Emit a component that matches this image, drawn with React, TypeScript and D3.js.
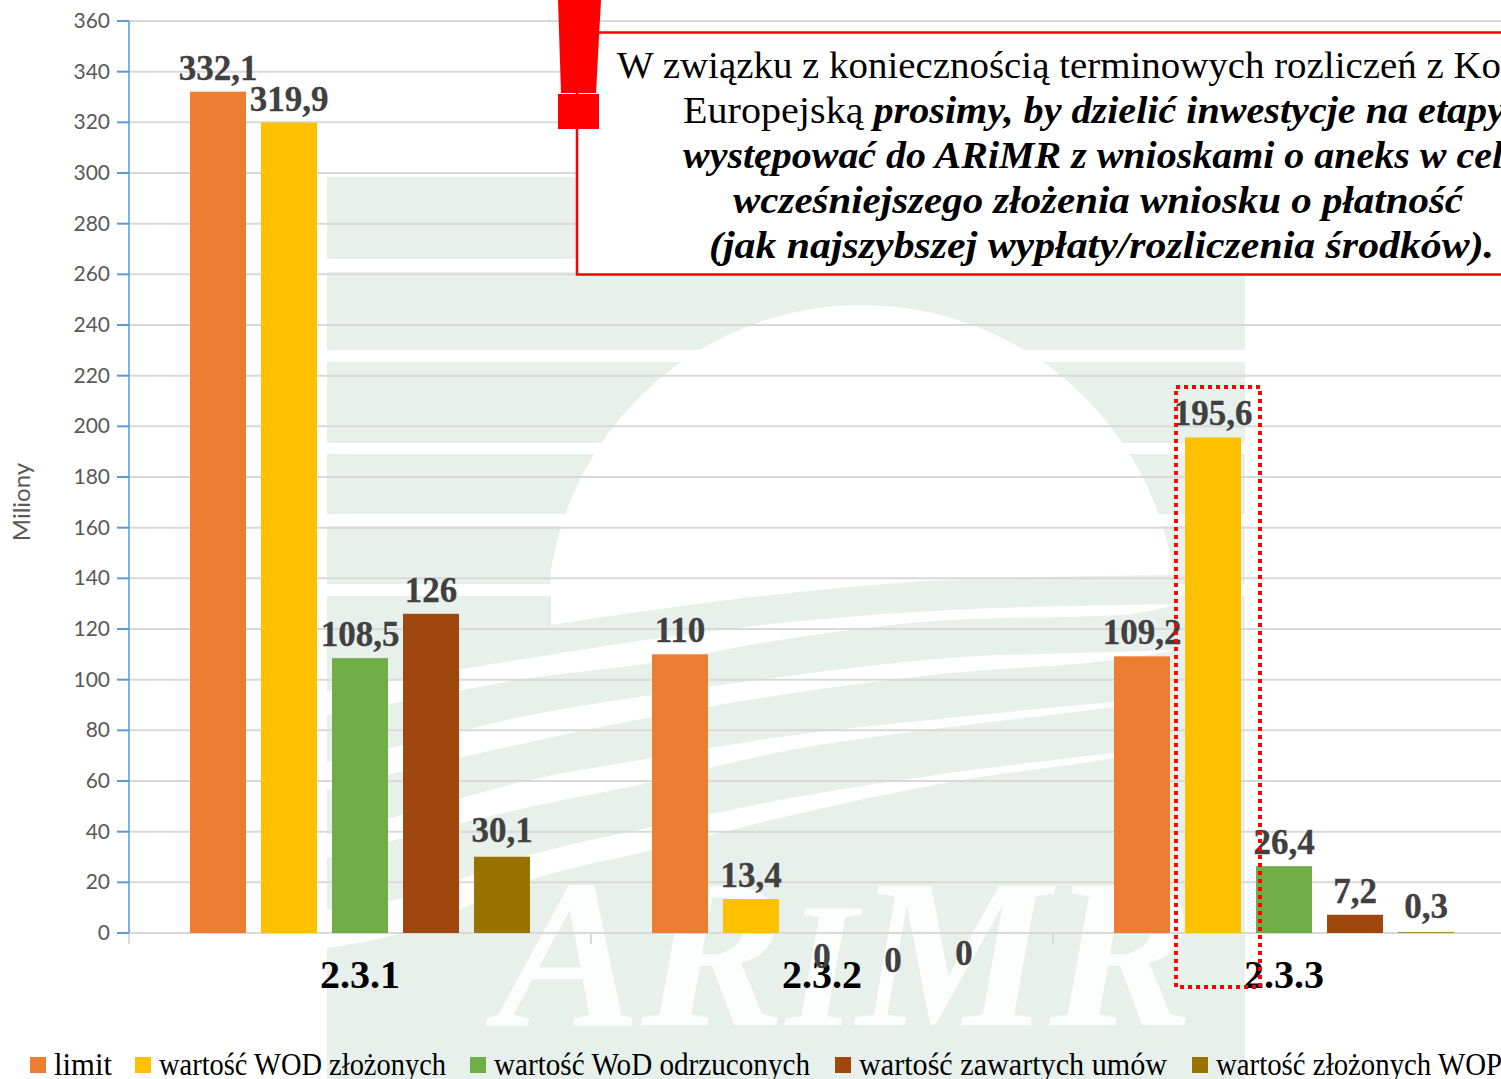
import React from "react";
import * as d3 from "d3";

const W = 1501;
const H = 1079;

const categories = ["2.3.1", "2.3.2", "2.3.3"];
const seriesNames = ["limit", "wartość WOD złożonych", "wartość WoD odrzuconych", "wartość zawartych umów", "wartość złożonych WOP"];
const seriesColors = ["#ed7d31", "#ffc000", "#70ad47", "#9e480e", "#997300"];
const limitValues = [332.1, 110, 109.2];
const wodFiled = [319.9, 13.4, 195.6];
const wodRejected = [108.5, 0, 26.4];
const contracts = [126, 0, 7.2];
const wopFiled = [30.1, 0, 0.3];
const allSeries = [limitValues, wodFiled, wodRejected, contracts, wopFiled];
const yTicks = d3.range(0, 361, 20);

const calloutLines = [
  { x: 617, len: 884, normal: "W związku z koniecznością terminowych rozliczeń z Ko", strong: "" },
  { x: 683, len: 822, normal: "Europejską ", strong: "prosimy, by dzielić inwestycje na etapy" },
  { x: 683, len: 820, normal: "", strong: "występować do ARiMR z wnioskami o aneks w cel" },
  { x: 733, len: 730, normal: "", strong: "wcześniejszego złożenia wniosku o płatność" },
  { x: 709, len: 785, normal: "", strong: "(jak najszybszej wypłaty/rozliczenia środków)." },
];

const legendX = [30, 135, 470, 835, 1192];
const legendLen = [58, 287, 316, 308, 286];

const SERIF = "'Liberation Serif', serif";
const SANS = "Lato, sans-serif";

const y = d3.scaleLinear().domain([0, 360]).range([933, 21]);
const xGroup = d3.scaleBand<string>().domain(categories).range([129, 129 + 462 * 3]);
const xSeries = d3.scaleBand<string>().domain(seriesNames).range([61, 401]).paddingInner(15 / 71);

const fmt = (v: number) => String(v).replace(".", ",");

// baseline of a data label; the zero labels were moved below the axis in the original
const labelBase = (g: number, s: number, v: number) => {
  if (v === 0) return y(0) + [35, 39, 32][s - 2];
  if (g === 0 && s === 4) return y(v) - 15;
  if (g === 2 && s === 4) return y(v) - 14;
  return y(v) - 12;
};

type P = [number, number, number];
const stripeArea = d3.area<P>().x((d) => d[0]).y0((d) => d[1]).y1((d) => d[2]).curve(d3.curveMonotoneX);
const stripes: P[][] = [
  [[327, 692, 715], [395, 680, 703], [530, 658, 678], [652, 639, 663], [780, 623, 640], [950, 610, 620], [1120, 605, 615], [1175, 604, 605]],
  [[327, 762, 790], [395, 747, 773], [530, 715, 742], [652, 695, 717], [780, 677, 695], [950, 658, 673], [1113, 652, 660], [1172, 650, 651]],
  [[327, 835, 858], [395, 817, 840], [530, 780, 807], [652, 758, 782], [780, 737, 752], [950, 718, 727], [1113, 702, 707], [1172, 697, 698]],
  [[327, 910, 948], [395, 900, 935], [530, 855, 880], [652, 827, 850], [780, 800, 818], [950, 773, 782], [1113, 753, 758], [1172, 746, 747]],
];
const sunBottom = d3.line().curve(d3.curveMonotoneX)([[551, 625], [652, 610], [780, 594], [947, 580], [1174, 575]] as [number, number][]) as string;
const sunClip = `${sunBottom} L1200,575 L1200,250 L551,250 Z`;
const bands: [number, number, number, number][] = [
  [327, 1245, 259, 272],
  [327, 1245, 350, 362],
  [327, 1245, 443, 454],
  [327, 1245, 514, 526],
  [327, 551, 584, 596],
  [1174, 1245, 584, 596],
];

export default function App() {
  return (
    <svg width={W} height={H} viewBox={`0 0 ${W} ${H}`} style={{ position: "absolute", left: 0, top: 0, display: "block", background: "#fff" }}>
      <defs>
        <clipPath id="sunClip">
          <path d={sunClip} />
        </clipPath>
      </defs>
      {/* watermark */}
      <g>
        <rect x={327} y={177} width={918} height={H - 177} fill="#e7f0eb" />
        {bands.map(([a, b, c, d]) => (
          <rect key={`${a}-${c}`} x={a} y={c} width={b - a} height={d - c} fill="#fff" />
        ))}
        <circle cx={862} cy={620} r={315} fill="#fff" clipPath="url(#sunClip)" />
        {stripes.map((s, i) => (
          <path key={i} d={stripeArea(s) as string} fill="#fff" />
        ))}
        <text x={497} y={1025} textLength={697} lengthAdjust="spacingAndGlyphs" fill="#fcfdfd" fontFamily={SERIF} fontStyle="italic" fontWeight="bold" fontSize={212}>
          AR<tspan fontSize={177}>I</tspan>MR
        </text>
      </g>

      {/* grid */}
      {yTicks.map((t) => (
        <line key={t} x1={129} x2={W} y1={y(t)} y2={y(t)} stroke="#d9d9d9" strokeWidth={2} />
      ))}
      {[0, 1, 2].map((i) => (
        <line key={i} x1={(xGroup(categories[i]) as number)} x2={(xGroup(categories[i]) as number)} y1={933} y2={944} stroke="#d9d9d9" strokeWidth={2} />
      ))}

      {/* y axis */}
      <line x1={129} x2={129} y1={21} y2={933} stroke="#7fb2e3" strokeWidth={2} />
      {yTicks.map((t) => (
        <g key={t}>
          <line x1={117} x2={129} y1={y(t)} y2={y(t)} stroke="#5b9bd5" strokeWidth={2} />
          <text x={110} y={y(t) + 7} textAnchor="end" fontFamily={SANS} fontSize={21} fill="#595959">{t}</text>
        </g>
      ))}
      <text transform="translate(30,502) rotate(-90)" textAnchor="middle" fontFamily={SANS} fontSize={24} fill="#595959">Miliony</text>

      {/* bars */}
      {allSeries.map((vals, s) =>
        vals.map((v, g) => {
          const x0 = (xGroup(categories[g]) as number) + (xSeries(seriesNames[s]) as number);
          return <rect key={`${s}-${g}`} x={x0} y={y(v)} width={xSeries.bandwidth()} height={y(0) - y(v)} fill={seriesColors[s]} />;
        })
      )}

      {/* category labels */}
      {categories.map((c) => (
        <text key={c} x={(xGroup(c) as number) + xGroup.bandwidth() / 2} y={988} textAnchor="middle" fontFamily={SERIF} fontWeight="bold" fontSize={40} fill="#000">{c}</text>
      ))}

      {/* data labels */}
      {allSeries.map((vals, s) =>
        vals.map((v, g) => {
          const cx = (xGroup(categories[g]) as number) + (xSeries(seriesNames[s]) as number) + xSeries.bandwidth() / 2;
          return (
            <text key={`${s}-${g}`} x={cx} y={labelBase(g, s, v)} textAnchor="middle" fontFamily={SERIF} fontWeight="bold" fontSize={35} stroke="#404040" strokeWidth={0.3} fill="#404040">{fmt(v)}</text>
          );
        })
      )}

      {/* legend */}
      {seriesNames.map((n, i) => (
        <g key={n}>
          <rect x={legendX[i]} y={1057} width={16} height={16} fill={seriesColors[i]} />
          <text x={legendX[i] + 24} y={1075} textLength={legendLen[i]} lengthAdjust="spacingAndGlyphs" fontFamily={SERIF} fontSize={31} fill="#000">{n}</text>
        </g>
      ))}

      {/* highlight around the WOD bar */}
      <rect x={1176} y={387} width={84} height={600} fill="none" stroke="#ff0000" strokeWidth={4} strokeDasharray="4 4" />

      {/* callout */}
      <rect x={577} y={32.5} width={W} height={242} fill="#fff" stroke="#ff0000" strokeWidth={2.5} />
      <path d="M558,0 L601,0 L596,93 L561,93 Z" fill="#ff0000" />
      <rect x={558} y={94} width={41} height={35} fill="#ff0000" />
      {calloutLines.map((l, i) => (
        <text key={i} x={l.x} y={78 + i * 45} textLength={l.len} lengthAdjust="spacingAndGlyphs" fontFamily={SERIF} fontSize={38} fill="#000">
          {l.normal}
          {l.strong && <tspan fontWeight="bold" fontStyle="italic">{l.strong}</tspan>}
        </text>
      ))}
    </svg>
  );
}
